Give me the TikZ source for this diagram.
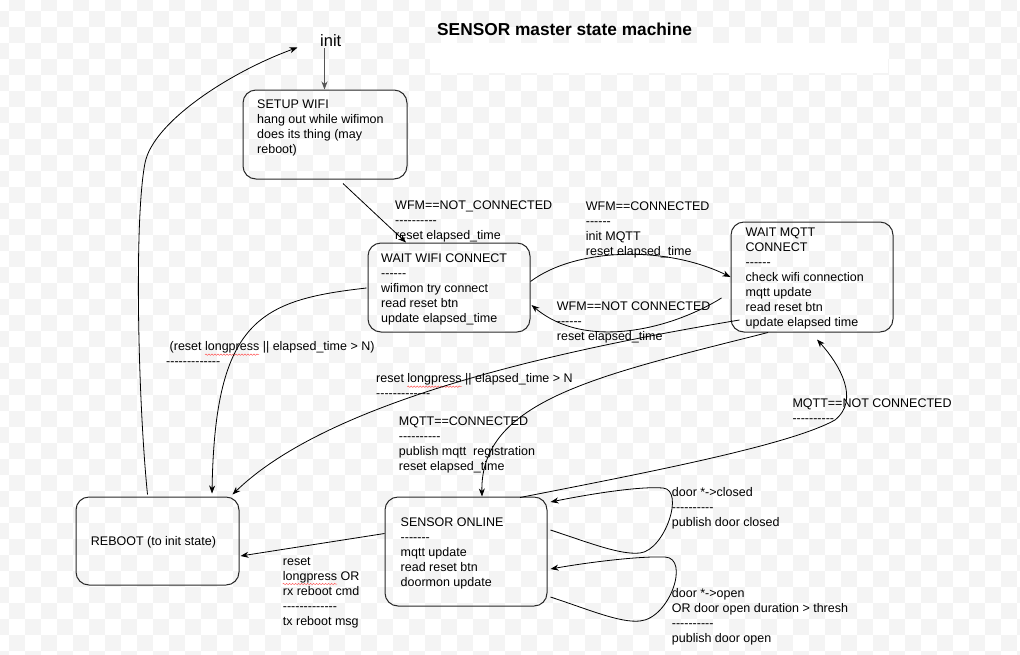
\documentclass[tikz,border=0pt]{standalone}
\usepackage{fontspec}
\setmainfont{Liberation Sans}
\usetikzlibrary{arrows.meta,decorations.pathmorphing,calc}
\definecolor{checker}{RGB}{244,244,244}
\definecolor{boxline}{RGB}{40,40,40}
\definecolor{initgray}{RGB}{85,85,85}
\newcommand\hy{-\kern0pt}
\newcommand\lines[1]{\begin{tabular}[t]{@{}l@{}}#1\end{tabular}}
\begin{document}
\begin{tikzpicture}[x=1pt,y=-1pt,
  state/.style={draw=boxline, line width=1pt, rounded corners=13pt, inner sep=0pt},
  lbl/.style={anchor=base west, inner sep=0pt, font=\fontsize{12.5}{15}\selectfont},
  conn/.style={draw=black, line width=0.8pt, -{Stealth[length=8pt,width=6pt,inset=2.5pt]}},
  squig/.style={draw=red!65, line width=0.5pt, decorate, decoration={snake, amplitude=0.7pt, segment length=3pt}}]
\useasboundingbox (0,0) rectangle (1020,654);
% background checkerboard
\begin{scope}
\clip (0,0) rectangle (1020,654);
\foreach \j in {0,2,...,40} \foreach \k in {0,...,32} \fill[checker] (9+32*\k,-5+16*\j) rectangle ++(16,16);
\foreach \j in {1,3,...,41} \foreach \k in {0,...,32} \fill[checker] (-7+32*\k,-5+16*\j) rectangle ++(16,16);
\fill[white] (430,43) rectangle (888,73);
\end{scope}

% title and init
\node[anchor=base west, inner sep=0pt, font=\fontsize{17.3}{20}\selectfont\bfseries] (title) at (437,35) {SENSOR master state machine};
\node[anchor=base west, inner sep=0pt, font=\fontsize{16.5}{20}\selectfont] (init) at (320,46) {init};
\coordinate (initin) at (297.5,47.5);

% states
\node[state, minimum width=164pt, minimum height=89pt] (setup) at (325,134.5) {};
\node[state, minimum width=162pt, minimum height=89pt] (wifi) at (449,287.5) {};
\node[state, minimum width=162pt, minimum height=110pt] (mqtt) at (812,277) {};
\node[state, minimum width=162pt, minimum height=109pt] (online) at (466,551.5) {};
\node[state, minimum width=163pt, minimum height=88pt] (reboot) at (157.5,541) {};

% state texts
\node[lbl] (setuptxt) at (257,108.3) {\lines{SETUP WIFI\\hang out while wifimon\\does its thing (may\\reboot)}};
\node[lbl] (wifitxt) at (381,262.7) {\lines{WAIT WIFI CONNECT\\\hy\hy\hy\hy\hy\hy\\wifimon try connect\\read reset btn\\update elapsed\_time}};
\node[lbl] (mqtttxt) at (745.5,236) {\lines{WAIT MQTT\\CONNECT\\\hy\hy\hy\hy\hy\hy\\check wifi connection\\mqtt update\\read reset btn\\update elapsed time}};
\node[lbl] (onlinetxt) at (400.5,526.7) {\lines{SENSOR ONLINE\\\hy\hy\hy\hy\hy\hy\hy\\mqtt update\\read reset btn\\doormon update}};
\node[lbl] (reboottxt) at (90.7,545.7) {REBOOT (to init state)};

% transition labels
\node[lbl] (l1) at (395,209.3) {\lines{WFM==NOT\_CONNECTED\\\hy\hy\hy\hy\hy\hy\hy\hy\hy\hy\\reset elapsed\_time}};
\node[lbl] (l2) at (585.7,210.5) {\lines{WFM==CONNECTED\\\hy\hy\hy\hy\hy\hy\\init MQTT\\reset elapsed\_time}};
\node[lbl] (l3) at (556.7,310) {\lines{WFM==NOT CONNECTED\\\hy\hy\hy\hy\hy\hy\\reset elapsed\_time}};
\node[lbl] (l4) at (166,350.7) {\lines{\hspace*{3.5pt}(reset longpress || elapsed\_time > N)\\\hy\hy\hy\hy\hy\hy\hy\hy\hy\hy\hy\hy\hy}};
\node[lbl] (l5) at (376,382.7) {\lines{reset longpress || elapsed\_time > N\\\hy\hy\hy\hy\hy\hy\hy\hy\hy\hy\hy\hy\hy}};
\node[lbl] (l6) at (398.7,425) {\lines{MQTT==CONNECTED\\\hy\hy\hy\hy\hy\hy\hy\hy\hy\hy\\publish mqtt~ registration\\reset elapsed\_time}};
\node[lbl] (l7) at (792.3,407.7) {\lines{MQTT==NOT CONNECTED\\\hy\hy\hy\hy\hy\hy\hy\hy\hy\hy}};
\node[lbl] (l8) at (671.7,496) {\lines{door *\hy>closed\\\hy\hy\hy\hy\hy\hy\hy\hy\hy\hy\\publish door closed}};
\node[lbl] (l9) at (671.7,597.7) {\lines{door *\hy>open\\OR door open duration > thresh\\\hy\hy\hy\hy\hy\hy\hy\hy\hy\hy\\publish door open}};
\node[lbl] (l10) at (282.7,565) {\lines{reset\\longpress OR\\rx reboot cmd\\\hy\hy\hy\hy\hy\hy\hy\hy\hy\hy\hy\hy\hy\\tx reboot msg}};

% spell-check squiggles
\draw[squig] (205,354.7) -- (259,354.7);
\draw[squig] (407.3,386.7) -- (461.5,386.7);
\draw[squig] (282.7,584) -- (337,584);

% connectors
\draw[conn,draw=initgray] ($(setup.north |- init.south)+(-0.5,2)$) -- ($(setup.north)+(-0.5,0)$);
\draw[conn] ($(reboot.north)+(-10,-2)$) .. controls (138,400) and (134,220) .. (145,163) .. controls (153,122) and (230,72) .. (initin);
\draw[conn] ($(setup.south)+(18,4)$) -- ($(wifi.north)+(-43,0)$);
\draw[conn] ($(wifi.east)+(0,-6)$) .. controls (575,248) and (665,245) .. (mqtt.west);
\draw[conn] ($(mqtt.west)+(-9,21)$) .. controls (670,330) and (585,350) .. ($(wifi.east)+(1,17.5)$);
\draw[conn] ($(wifi.west)+(-1,0.5)$) .. controls (260,300) and (215,320) .. ($(reboot.north)+(54.5,-3)$);
\draw[conn] ($(mqtt.west)+(9,43)$) .. controls (560,350) and (330,400) .. ($(reboot.north east)+(-7,-2)$);
\draw[conn] ($(mqtt.south)+(-44,0)$) .. controls (600,375) and (480,400) .. ($(online.north)+(16,0)$);
\draw[conn] ($(online.north)+(54,1)$) .. controls (650,472) and (790,445) .. (835,420) .. controls (860,400) and (840,365) .. ($(mqtt.south)+(5,7)$);
\draw[conn] ($(online.west)+(0,-18)$) -- ($(reboot.east)+(1,15)$);
\draw[conn] ($(online.east)+(3,-21.5)$) .. controls (590,543) and (620,555) .. (640,553) .. controls (665,550) and (685,490) .. (663,488) .. controls (640,486) and (590,494) .. ($(online.east)+(3,-49.5)$);
\draw[conn] ($(online.east)+(3,45.5)$) .. controls (590,610) and (620,623) .. (640,621) .. controls (670,618) and (690,558) .. (665,557) .. controls (640,556) and (590,562) .. ($(online.east)+(3,17.5)$);
\end{tikzpicture}
\end{document}
